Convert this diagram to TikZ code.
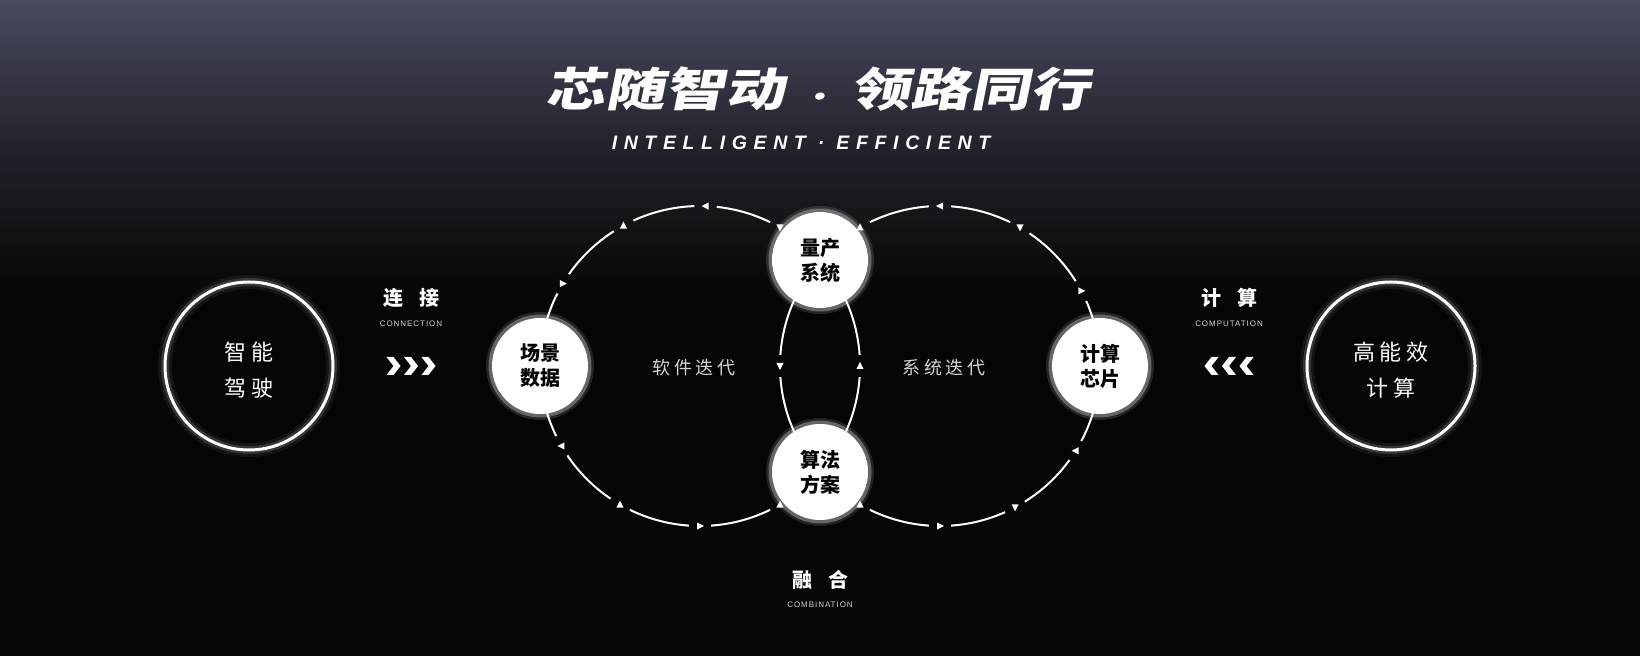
\documentclass[tikz,border=0pt]{standalone}
\usepackage{fontspec}
\usetikzlibrary{calc}
\newfontfamily\cjk{Noto Sans CJK SC}
\newfontfamily\cjkwide{Noto Sans CJK SC}[LetterSpace=22]
\newfontfamily\cjktitle{Noto Sans CJK SC}[FakeSlant=0.2,FakeStretch=1.3]
\newfontfamily\latinsub{Liberation Sans}[LetterSpace=34]
\newfontfamily\latinsmall{Liberation Sans}[LetterSpace=12]
\definecolor{bgtop}{HTML}{484B61}
\definecolor{bgmid}{HTML}{23242C}
\definecolor{bgbot}{HTML}{050505}
\definecolor{softgray}{HTML}{D4D4D4}

\begin{document}
\begin{tikzpicture}[x=1pt,y=1pt,
  ring/.style={circle,draw=white,line width=3pt,minimum size=168pt,inner sep=0pt,
    preaction={draw=white,draw opacity=0.06,line width=14pt},
    preaction={draw=white,draw opacity=0.14,line width=8pt}},
  ringtext/.style={text=white,align=center,font=\cjkwide\fontsize{22}{36}\selectfont},
  stage/.style={circle,fill=white,minimum size=96pt,inner sep=0pt,
    preaction={draw=white,draw opacity=0.12,line width=12pt},
    preaction={draw=white,draw opacity=0.3,line width=7pt},
    text=black,align=center,font=\cjk\bfseries\fontsize{20}{25}\selectfont},
  loopline/.style={white,line width=2pt},
  flowtip/.pic={\fill[white] (4,0)--(-3,3.6)--(-3,-3.6)--cycle;},
  tag/.style={text=white,font=\cjk\bfseries\fontsize{20}{24}\selectfont},
  tagsub/.style={text=softgray,font=\latinsmall\fontsize{8}{10}\selectfont},
  looptext/.style={text=softgray,font=\cjkwide\fontsize{18}{22}\selectfont}]
  \useasboundingbox (0,0) rectangle (1640,656);
  \fill[bgbot] (0,0) rectangle (1640,656);
  \shade[top color=bgtop,bottom color=bgmid] (0,656) rectangle (1640,515);
  \shade[top color=bgmid,bottom color=bgbot] (0,516) rectangle (1640,355);

  \coordinate (cL) at (700,290);
  \coordinate (cR) at (940,290);

  \foreach \a/\b in {4/56,64/84,92/114.6,122.6/145,153/206,214/236,244/266,274/296,304/356}
    \draw[loopline] ($(cL)+(\a:160)$) arc[start angle=\a,end angle=\b,radius=160];
  \foreach \a/\b in {32/56,64/86,94/116,124/176,184/236,244/266,274/294,302/324,332/384}
    \draw[loopline] ($(cR)+(\a:160)$) arc[start angle=\a,end angle=\b,radius=160];

  \node[stage] (scene) at (540,290) {场景\\数据};
  \node[stage] (massprod) at (820,396) {量产\\系统};
  \node[stage] (algo) at (820,184) {算法\\方案};
  \node[stage] (chip) at (1100,290) {计算\\芯片};

  \foreach \t/\r in {0/90,60/270,88/180,118.6/90,149/0,210/180,240/90,270/0,300/90}
    \pic[rotate=\r] at ($(cL)+(\t:160)$) {flowtip};
  \foreach \t/\r in {28/0,60/270,90/180,120/90,180/270,240/90,270/0,298/270,328/180}
    \pic[rotate=\r] at ($(cR)+(\t:160)$) {flowtip};

  \node[looptext] (softiter) at (694,288) {软件迭代};
  \node[looptext] (sysiter) at (944,288) {系统迭代};

  \node[ring] (drive) at (249,290) {};
  \node[ringtext] (drivetext) at (249,286) {智能\\驾驶};
  \node[ring] (power) at (1391,290) {};
  \node[ringtext] (powertext) at (1391,286) {高能效\\计算};

  \node[tag] (linkcn) at (411,358) {连\hspace{0.8em}接};
  \node[tagsub] (linken) at (411,332) {CONNECTION};
  \node[tag] (compcn) at (1229,358) {计\hspace{0.8em}算};
  \node[tagsub] (compen) at (1229,332) {COMPUTATION};
  \node[tag] (fusecn) at (820,76) {融\hspace{0.8em}合};
  \node[tagsub] (fuseen) at (820,51) {COMBINATION};

  \coordinate (inchev) at (411,290);
  \coordinate (outchev) at (1229,290);
  \foreach \i in {-1,0,1} {
    \fill[white] ($(inchev)+(\i*17.5,0)$) ++(-7,9) -- ++(7,0) -- ++(7,-9) -- ++(-7,-9) -- ++(-7,0) -- ++(7,9) -- cycle;
    \fill[white] ($(outchev)+(\i*17.5,0)$) ++(7,9) -- ++(-7,0) -- ++(-7,-9) -- ++(7,-9) -- ++(7,0) -- ++(-7,9) -- cycle;
  }

  \node[text=white,font=\cjktitle\bfseries\fontsize{46}{50}\selectfont] (title) at (818,567)
    {芯随智动\hspace{16pt}{\fontsize{26}{26}\selectfont ·}\hspace{16pt}领路同行};
  \node[text=white,font=\latinsub\bfseries\itshape\fontsize{19.5}{22}\selectfont] (subtitle) at (801,513)
    {INTELLIGENT · EFFICIENT};
\end{tikzpicture}
\end{document}
